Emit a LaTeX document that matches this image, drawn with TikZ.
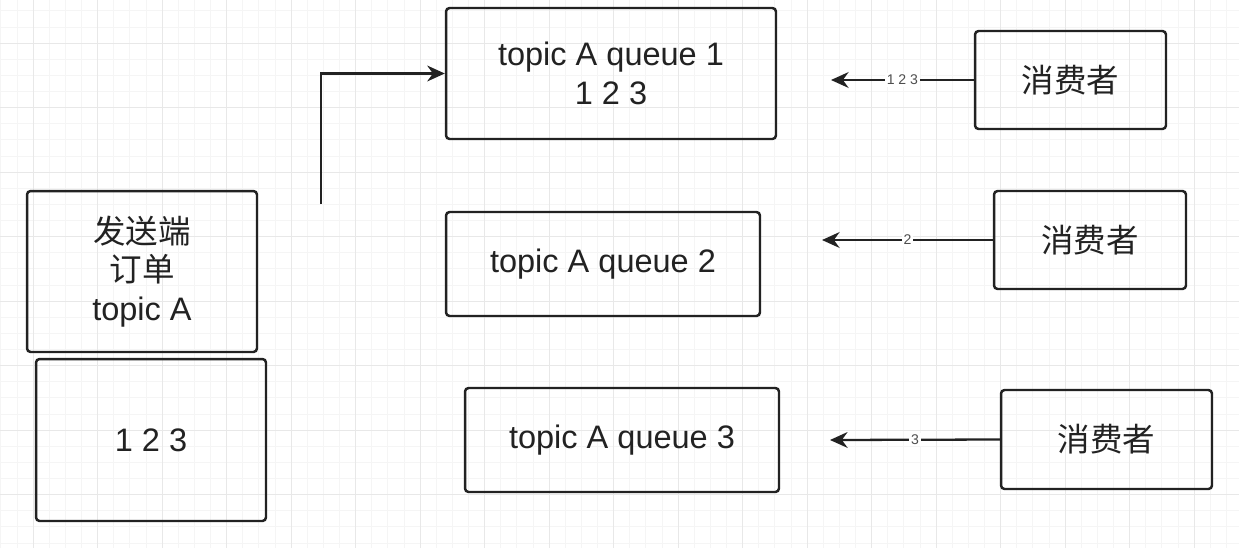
\documentclass[tikz,border=0pt]{standalone}
\usepackage{fontspec}
\setmainfont{Liberation Sans}
\newfontfamily\cjk{Noto Sans CJK SC}
\usetikzlibrary{arrows.meta}
\definecolor{ink}{HTML}{222222}

\tikzset{
  box/.style={draw=ink, line width=1.4pt, rounded corners=2pt, align=center,
    inner sep=0pt, text=ink, font=\fontsize{18.5}{22}\selectfont},
  lbl/.style={fill=white, inner sep=1pt, text=ink!80, font=\fontsize{8}{9}\selectfont},
  link/.style={draw=ink, line width=1.3pt, -{Stealth[length=10pt,width=9pt]}}
}

\begin{document}
\begin{tikzpicture}[x=0.02cm, y=-0.02cm]
    \useasboundingbox (0,0) rectangle (1239,548);
    \fill [white] (0,0) rectangle (1239,548);
    % grid
    \foreach \x in {0.75,16.875,...,1239} \draw [black!4] (\x,0) -- (\x,548);
    \foreach \y in {10.75,26.875,...,548} \draw [black!4] (0,\y) -- (1239,\y);
    \foreach \x in {33,97.5,...,1239} \draw [black!9] (\x,0) -- (\x,548);
    \foreach \y in {43,107.5,...,548} \draw [black!9] (0,\y) -- (1239,\y);

    % sender side
    \node [box, minimum width=4.6cm, minimum height=3.22cm] (sender) at (142,271.5)
      {{\cjk 发送端}\\{\cjk 订单}\\topic A};
    \node [box, minimum width=4.6cm, minimum height=3.24cm] (msgs) at (151,440) {1 2 3};

    % queues
    \node [box, minimum width=6.6cm, minimum height=2.62cm] (q1) at (611,73.5) {topic A queue 1\\1 2 3};
    \node [box, minimum width=6.28cm, minimum height=2.08cm] (q2) at (603,264) {topic A queue 2};
    \node [box, minimum width=6.28cm, minimum height=2.08cm] (q3) at (622,440) {topic A queue 3};

    % consumers
    \node [box, minimum width=3.82cm, minimum height=1.96cm] (c1) at (1070.5,80) {\cjk 消费者};
    \node [box, minimum width=3.84cm, minimum height=1.96cm] (c2) at (1090,240) {\cjk 消费者};
    \node [box, minimum width=4.22cm, minimum height=1.98cm] (c3) at (1106.5,439.5) {\cjk 消费者};

    \coordinate (send) at (321,204);
    \coordinate (t1) at (831,80);
    \coordinate (t2) at (822,240);
    \coordinate (t3) at (830,440);

    \draw [link] (send) |- (q1.west);
    \draw [link] (c1.west) -- node [lbl] {1 2 3} (t1);
    \draw [link] (c2.west) -- node [lbl] {2} (t2);
    \draw [link] (c3.west) -- node [lbl] {3} (t3);
\end{tikzpicture}
\end{document}
